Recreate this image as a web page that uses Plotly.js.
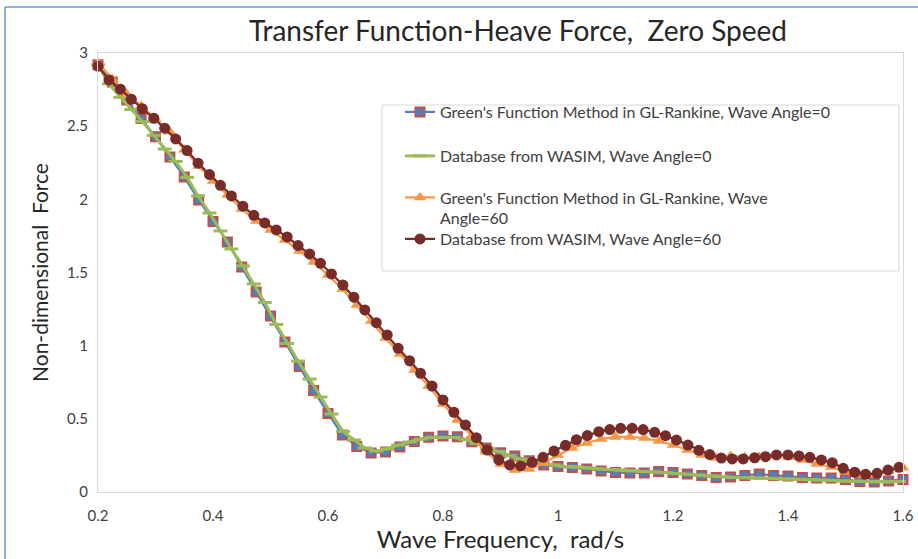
<!DOCTYPE html>
<html>
<head>
<meta charset="utf-8">
<script src="https://cdn.plot.ly/plotly-3.0.1.min.js"></script>
<style>
  html, body { margin: 0; padding: 0; background: #ffffff; }
  #chart { width: 918px; height: 559px; }
</style>
</head>
<body>
<div id="chart"></div>
<script>
// Wave frequencies (rad/s) of the WASIM database samples
const wasimFreq = [
  0.200, 0.219, 0.239, 0.258, 0.277, 0.297, 0.316, 0.335, 0.355, 0.374,
  0.394, 0.413, 0.432, 0.452, 0.471, 0.490, 0.510, 0.529, 0.548, 0.568,
  0.587, 0.606, 0.626, 0.645, 0.664, 0.684, 0.703, 0.722, 0.742, 0.761,
  0.781, 0.800, 0.819, 0.839, 0.858, 0.877, 0.897, 0.916, 0.935, 0.955,
  0.974, 0.993, 1.013, 1.032, 1.051, 1.071, 1.090, 1.109, 1.129, 1.148,
  1.168, 1.187, 1.206, 1.226, 1.245, 1.264, 1.284, 1.303, 1.322, 1.342,
  1.361, 1.380, 1.400, 1.419, 1.438, 1.458, 1.477, 1.496, 1.516, 1.535,
  1.555, 1.574, 1.593
];

// Wave frequencies (rad/s) of the GL-Rankine Green's function runs
const rankineFreq = [
  0.200, 0.225, 0.250, 0.275, 0.300, 0.325, 0.350, 0.375, 0.400, 0.425,
  0.450, 0.475, 0.500, 0.525, 0.550, 0.575, 0.600, 0.625, 0.650, 0.675,
  0.700, 0.725, 0.750, 0.775, 0.800, 0.825, 0.850, 0.875, 0.900, 0.925,
  0.950, 0.975, 1.000, 1.025, 1.050, 1.075, 1.100, 1.125, 1.150, 1.175,
  1.200, 1.225, 1.250, 1.275, 1.300, 1.325, 1.350, 1.375, 1.400, 1.425,
  1.450, 1.475, 1.500, 1.525, 1.550, 1.575, 1.600
];

// Non-dimensional heave force, GL-Rankine, wave angle 0
const rankineAngle0 = [
  2.919, 2.802, 2.679, 2.553, 2.427, 2.290, 2.153, 1.996, 1.848, 1.709,
  1.538, 1.367, 1.203, 1.025, 0.858, 0.694, 0.537, 0.390, 0.311, 0.267,
  0.273, 0.308, 0.345, 0.374, 0.383, 0.378, 0.344, 0.301, 0.269, 0.246,
  0.214, 0.185, 0.174, 0.167, 0.157, 0.144, 0.133, 0.130, 0.130, 0.140,
  0.133, 0.123, 0.113, 0.099, 0.103, 0.113, 0.123, 0.113, 0.109, 0.099,
  0.096, 0.096, 0.085, 0.072, 0.068, 0.075, 0.085
];

// Non-dimensional heave force, WASIM database, wave angle 0
const wasimAngle0 = [
  2.920, 2.789, 2.697, 2.614, 2.532, 2.437, 2.344, 2.259, 2.150, 2.023,
  1.907, 1.784, 1.661, 1.545, 1.422, 1.295, 1.145, 1.015, 0.895, 0.772,
  0.649, 0.533, 0.414, 0.355, 0.301, 0.280, 0.294, 0.321, 0.342, 0.362,
  0.373, 0.374, 0.373, 0.359, 0.332, 0.301, 0.277, 0.249, 0.226, 0.205,
  0.195, 0.185, 0.174, 0.171, 0.164, 0.157, 0.154, 0.150, 0.144, 0.140,
  0.137, 0.132, 0.126, 0.121, 0.114, 0.109, 0.105, 0.100, 0.098, 0.096,
  0.094, 0.091, 0.089, 0.087, 0.084, 0.082, 0.079, 0.075, 0.073, 0.072,
  0.070, 0.070, 0.072
];

// Non-dimensional heave force, GL-Rankine, wave angle 60
const rankineAngle60 = [
  2.932, 2.823, 2.720, 2.638, 2.550, 2.461, 2.338, 2.228, 2.126, 2.030,
  1.934, 1.852, 1.791, 1.722, 1.647, 1.572, 1.483, 1.388, 1.278, 1.169,
  1.053, 0.943, 0.834, 0.725, 0.601, 0.492, 0.383, 0.273, 0.191, 0.150,
  0.157, 0.198, 0.253, 0.301, 0.335, 0.362, 0.376, 0.376, 0.369, 0.349,
  0.321, 0.287, 0.253, 0.232, 0.246, 0.239, 0.239, 0.246, 0.239, 0.219,
  0.191, 0.171, 0.137, 0.116, 0.116, 0.144, 0.165
];

// Non-dimensional heave force, WASIM database, wave angle 60
const wasimAngle60 = [
  2.910, 2.816, 2.753, 2.684, 2.619, 2.554, 2.486, 2.413, 2.333, 2.247,
  2.169, 2.096, 2.023, 1.953, 1.891, 1.839, 1.791, 1.743, 1.684, 1.627,
  1.563, 1.490, 1.415, 1.331, 1.244, 1.157, 1.073, 0.982, 0.897, 0.811,
  0.724, 0.629, 0.545, 0.458, 0.371, 0.287, 0.219, 0.185, 0.178, 0.203,
  0.237, 0.280, 0.319, 0.357, 0.386, 0.412, 0.427, 0.435, 0.435, 0.427,
  0.408, 0.385, 0.355, 0.321, 0.285, 0.256, 0.232, 0.226, 0.226, 0.234,
  0.241, 0.253, 0.253, 0.246, 0.237, 0.219, 0.200, 0.162, 0.135, 0.121,
  0.128, 0.150, 0.169
];

const seriesNames = [
  "Green's Function Method in GL-Rankine, Wave Angle=0",
  "Database from WASIM, Wave Angle=0",
  "Green's Function Method in GL-Rankine, Wave<br>Angle=60",
  "Database from WASIM, Wave Angle=60"
];

const FONT = "Lato, 'Open Sans', sans-serif";

// Plot area in pixels
const W = 918, H = 559;
const L = 98, R = 903, T = 53, B = 492;
const px = x => (x - L) / (R - L);
const py = y => (B - y) / (B - T);

const traces = [
  {
    x: rankineFreq, y: rankineAngle0, name: seriesNames[0], legend: 'legend',
    type: 'scatter', mode: 'lines+markers', cliponaxis: false,
    line: { color: '#4F81BD', width: 2.25 },
    marker: { symbol: 'square', size: 9, color: '#4F81BD', line: { color: '#C0504D', width: 2 } }
  },
  {
    x: wasimFreq, y: wasimAngle0, name: seriesNames[1], legend: 'legend2',
    type: 'scatter', mode: 'lines+markers', cliponaxis: false,
    line: { color: '#9BBB59', width: 3 },
    marker: { symbol: 'line-ew', size: 10, color: '#9BBB59', line: { color: '#9BBB59', width: 3 } }
  },
  {
    x: rankineFreq, y: rankineAngle60, name: seriesNames[2], legend: 'legend3',
    type: 'scatter', mode: 'lines+markers', cliponaxis: false,
    line: { color: '#F79646', width: 2.25 },
    marker: { symbol: 'triangle-up', size: 11, color: '#F79646', line: { width: 0 } }
  },
  {
    x: wasimFreq, y: wasimAngle60, name: seriesNames[3], legend: 'legend4',
    type: 'scatter', mode: 'lines+markers', cliponaxis: false,
    line: { color: '#772C2A', width: 2.25 },
    marker: { symbol: 'circle', size: 11, color: '#772C2A', line: { width: 0 } }
  }
];

const axisCommon = {
  showgrid: false, zeroline: false,
  showline: true, linecolor: '#D9D9D9', linewidth: 1, mirror: true,
  ticks: '',
  tickfont: { family: FONT, size: 15, color: '#404040' }
};

// One legend per series, each centred on its own row inside the frame
const legendRow = centreY => ({
  x: px(400), y: py(centreY), xanchor: 'left', yanchor: 'middle',
  bgcolor: 'rgba(0,0,0,0)', borderwidth: 0, valign: 'top',
  font: { family: FONT, size: 16, color: '#404040' }
});

const layout = {
  width: W, height: H,
  margin: { l: L, r: W - R, t: T, b: H - B, pad: 0 },
  paper_bgcolor: '#ffffff', plot_bgcolor: '#ffffff',
  font: { family: FONT, color: '#404040' },
  showlegend: true,
  hovermode: false,
  title: {
    text: 'Transfer Function-Heave Force,\u00a0 Zero Speed',
    font: { family: FONT, size: 28, color: '#262626' },
    xref: 'container', yref: 'container',
    x: 518 / W, xanchor: 'center',
    y: 1 - 31 / H, yanchor: 'middle'
  },
  xaxis: Object.assign({}, axisCommon, {
    range: [0.2, 1.6], tick0: 0.2, dtick: 0.2,
    ticklabelstandoff: 10,
    title: { text: 'Wave Frequency,\u00a0 rad/s', font: { family: FONT, size: 24, color: '#262626' }, standoff: 8 }
  }),
  yaxis: Object.assign({}, axisCommon, {
    range: [0, 3], tick0: 0, dtick: 0.5,
    ticklabelstandoff: 6,
    title: { text: 'Non-dimensional\u00a0 Force', font: { family: FONT, size: 21, color: '#262626' }, standoff: 12 }
  }),
  legend: legendRow(112),
  legend2: legendRow(156),
  legend3: legendRow(208),
  legend4: legendRow(239),
  shapes: [
    // legend frame
    { type: 'rect', xref: 'paper', yref: 'paper', layer: 'above',
      x0: px(382), x1: px(899), y0: py(271), y1: py(105),
      fillcolor: '#ffffff', line: { color: '#D9D9D9', width: 1 } },
    // outer chart border (left and top edges)
    { type: 'line', xref: 'paper', yref: 'paper',
      x0: px(5), x1: px(5), y0: py(7), y1: py(H + 2),
      line: { color: '#6A9AD0', width: 1.5 } },
    { type: 'line', xref: 'paper', yref: 'paper',
      x0: px(5), x1: px(W + 2), y0: py(7), y1: py(7),
      line: { color: '#6A9AD0', width: 1.5 } }
  ]
};

Plotly.newPlot('chart', traces, layout, { staticPlot: true, displayModeBar: false });
</script>
</body>
</html>
